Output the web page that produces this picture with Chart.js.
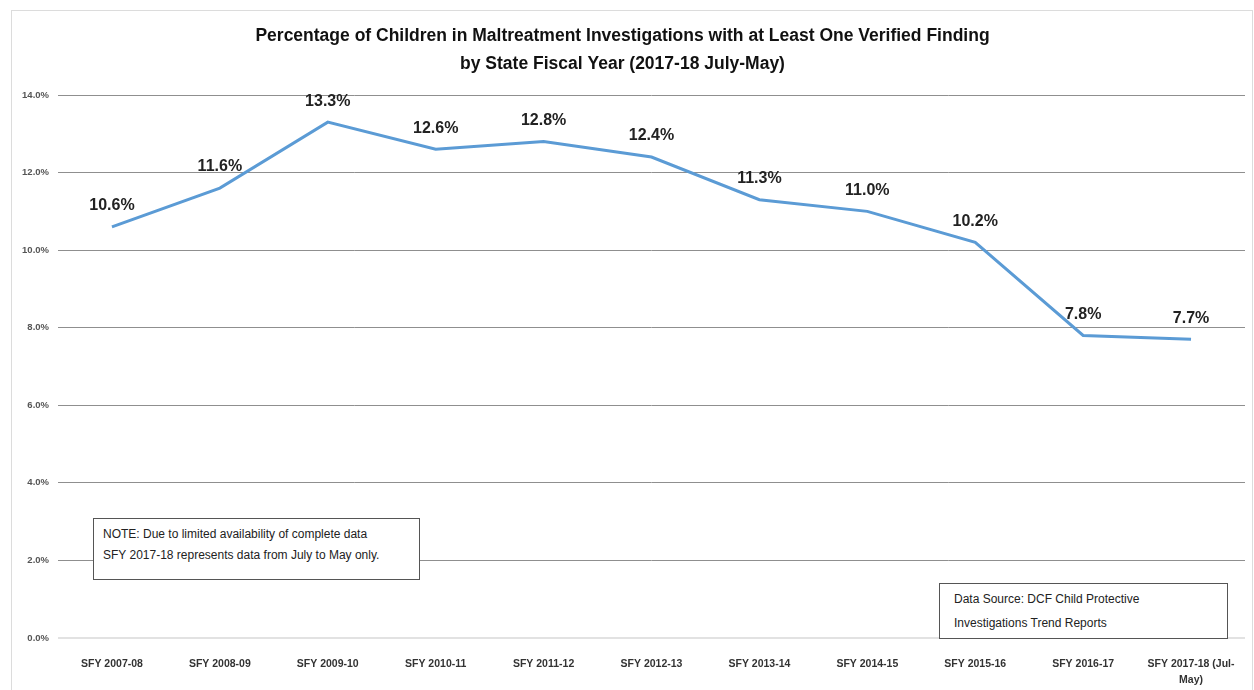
<!DOCTYPE html>
<html lang="en">
<head>
    <meta charset="UTF-8">
    <title>Verified Findings by SFY</title>
    <script src="https://cdn.jsdelivr.net/npm/chart.js"></script>
    <style>
        body { margin: 0; background: #fff; font-family: 'Liberation Sans', Arial, sans-serif; }
        #wrap { position: relative; width: 1254px; height: 690px; overflow: hidden; }
        #frame { position: absolute; left: 11px; top: 10px; width: 1240px; height: 700px; border: 1px solid #dcdcdc; }
        canvas { position: absolute; left: 0; top: 0; }
        .note { position: absolute; background: #fff; border: 1.5px solid #555; color: #222; font-size: 12px; line-height: 21px; box-sizing: border-box; }
        #note1 { left: 93px; top: 518px; width: 327px; height: 62px; padding: 5px 0 0 9px; }
        #note2 { left: 939px; top: 583px; width: 289px; height: 56px; padding: 3px 0 0 14px; line-height: 24px; }
    </style>
</head>
<body>
<div id="wrap">
    <div id="frame"></div>
    <canvas id="myChart" width="1254" height="690"></canvas>
    <div class="note" id="note1">NOTE: Due to limited availability of complete data<br>SFY 2017-18 represents data from July to May only.</div>
    <div class="note" id="note2">Data Source: DCF Child Protective<br>Investigations Trend Reports</div>
</div>
<script>
    // fiscal years and percent of children with at least one verified finding
    const years = ['SFY 2007-08', 'SFY 2008-09', 'SFY 2009-10', 'SFY 2010-11', 'SFY 2011-12', 'SFY 2012-13',
                   'SFY 2013-14', 'SFY 2014-15', 'SFY 2015-16', 'SFY 2016-17', ['SFY 2017-18 (Jul-', 'May)']];
    const pctVerified = [10.6, 11.6, 13.3, 12.6, 12.8, 12.4, 11.3, 11.0, 10.2, 7.8, 7.7];
    const titleLines = ['Percentage of Children in Maltreatment Investigations with at Least One Verified Finding',
                        'by State Fiscal Year (2017-18 July-May)'];

    // draws the value above each point
    const pointLabels = {
        id: 'pointLabels',
        afterDatasetsDraw(chart) {
            const ctx = chart.ctx;
            const meta = chart.getDatasetMeta(0);
            ctx.save();
            ctx.font = 'bold 16px "Liberation Sans", Arial, sans-serif';
            ctx.fillStyle = '#222';
            ctx.textAlign = 'center';
            ctx.textBaseline = 'middle';
            meta.data.forEach((pt, i) => {
                ctx.fillText(pctVerified[i].toFixed(1) + '%', pt.x, pt.y - 21);
            });
            ctx.restore();
        }
    };

    const ctx = document.getElementById('myChart').getContext('2d');
    const chart = new Chart(ctx, {
        type: 'line',
        data: {
            labels: years,
            datasets: [{
                data: pctVerified,
                borderColor: '#5b9bd5',
                borderWidth: 3,
                pointRadius: 0,
                tension: 0,
                fill: false
            }]
        },
        options: {
            responsive: false,
            animation: false,
            layout: { padding: { left: 0, right: 9, top: 0, bottom: 0 } },
            plugins: {
                legend: { display: false },
                tooltip: { enabled: false },
                title: {
                    display: true,
                    text: titleLines,
                    color: '#111',
                    font: { family: '"Liberation Sans", Arial, sans-serif', size: 17.5, weight: 'bold', lineHeight: 1.6 },
                    padding: { top: 22, bottom: 17 }
                }
            },
            scales: {
                y: {
                    min: 0,
                    max: 14,
                    afterFit(scale) { scale.width = 58; },
                    border: { display: false },
                    grid: {
                        drawTicks: false,
                        color: (c) => c.tick && c.tick.value === 0 ? '#e2e2e2' : '#8f8f8f',
                        lineWidth: (c) => c.tick && c.tick.value === 0 ? 2 : 1
                    },
                    ticks: {
                        stepSize: 2,
                        padding: 9,
                        color: '#555',
                        font: { family: '"Liberation Sans", Arial, sans-serif', size: 9.5, weight: 'bold' },
                        callback: (v) => v.toFixed(1) + '%'
                    }
                },
                x: {
                    offset: true,
                    afterFit(scale) { scale.height = 52; },
                    border: { display: false },
                    grid: { display: false, drawTicks: false, offset: true },
                    ticks: {
                        padding: 18,
                        maxRotation: 0,
                        autoSkip: false,
                        color: '#333',
                        font: { family: '"Liberation Sans", Arial, sans-serif', size: 10.5, weight: 'bold', lineHeight: 1.5 }
                    }
                }
            }
        },
        plugins: [pointLabels]
    });
</script>
</body>
</html>
